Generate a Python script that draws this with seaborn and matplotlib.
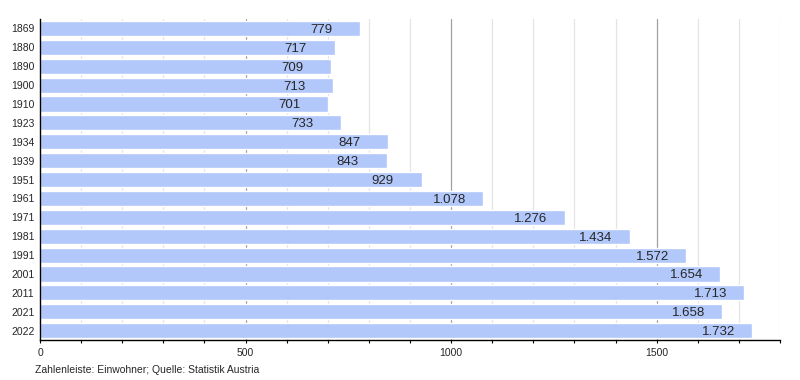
import matplotlib
matplotlib.use("Agg")
import matplotlib.pyplot as plt
import seaborn as sns
import pandas as pd
from matplotlib.ticker import MultipleLocator

years = ["1869", "1880", "1890", "1900", "1910", "1923", "1934", "1939", "1951",
         "1961", "1971", "1981", "1991", "2001", "2011", "2021", "2022"]
population = [779, 717, 709, 713, 701, 733, 847, 843, 929,
              1078, 1276, 1434, 1572, 1654, 1713, 1658, 1732]
footnote = "Zahlenleiste: Einwohner; Quelle: Statistik Austria"

df = pd.DataFrame({"year": years, "pop": population})

sns.set_style("white")
plt.rcParams["font.family"] = ["Liberation Sans", "DejaVu Sans"]

fig = plt.figure(figsize=(8, 3.8), dpi=100)
ax = fig.add_axes([0.05, 0.105, 0.925, 0.845])

# grid first so bars sit on top
for x in range(100, 1900, 100):
    ax.axvline(x, color="#a0a0a0" if x % 500 == 0 else "#e4e4e4", lw=0.9, zorder=0)

sns.barplot(data=df, x="pop", y="year", orient="h", color="#b3c8fa",
            saturation=1, width=0.8, ax=ax, zorder=2)

# value labels start a fixed distance left of the bar end
for i, v in enumerate(population):
    lbl = f"{v:,}".replace(",", ".")
    ax.text(v - 122, i, lbl, ha="left", va="center_baseline", fontsize=9.5, zorder=3)

ax.set_xlim(0, 1800)
ax.set_ylim(len(years) - 0.5, -0.5)
ax.xaxis.set_major_locator(MultipleLocator(500))
ax.xaxis.set_minor_locator(MultipleLocator(100))
ax.tick_params(axis="x", which="both", direction="out", length=2.5, width=0.8,
               bottom=True, labelsize=7.5, color="black", pad=3)
ax.tick_params(axis="y", length=0, labelsize=7.5, pad=4)
ax.set_xlabel("")
ax.set_ylabel("")
for s in ["top", "right"]:
    ax.spines[s].set_visible(False)
for s in ["left", "bottom"]:
    ax.spines[s].set_color("black")
    ax.spines[s].set_linewidth(1)

fig.text(0.044, 0.027, footnote, fontsize=7.5, ha="left", va="center")

fig.savefig("out.png", dpi=100)
